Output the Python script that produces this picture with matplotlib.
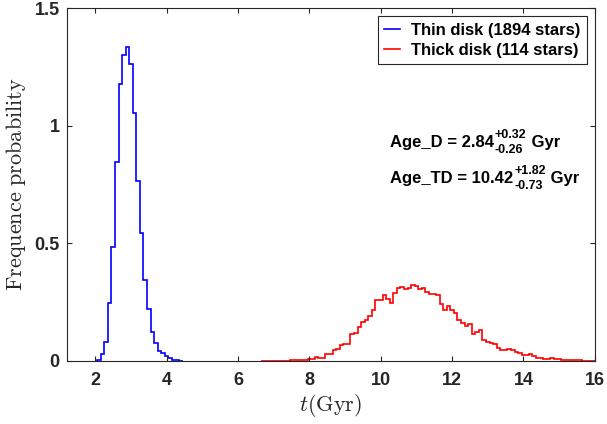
import numpy as np
import matplotlib
matplotlib.use("Agg")
import matplotlib.pyplot as plt

# ---------------- data ----------------
bin_width = 0.1
thin_start = 2.05
thin_density = [0.005, 0.028, 0.082, 0.248, 0.486, 0.845, 1.179, 1.300, 1.333, 1.262,
                1.054, 0.763, 0.543, 0.345, 0.220, 0.125, 0.078, 0.044, 0.033, 0.023,
                0.012, 0.006, 0.004, 0.002]

thick_start = 6.65
thick_density = [0.001, 0.001, 0.001, 0.002, 0.002, 0.002, 0.002, 0.002, 0.003, 0.003,
                 0.003, 0.004, 0.004, 0.008,
                 0.010, 0.016, 0.014, 0.014, 0.028, 0.030, 0.045, 0.052, 0.067, 0.071,
                 0.071, 0.116, 0.120, 0.145, 0.166, 0.176, 0.190, 0.218, 0.258, 0.258,
                 0.280, 0.265, 0.247, 0.290, 0.312, 0.315, 0.304, 0.312, 0.325, 0.318,
                 0.308, 0.312, 0.294, 0.284, 0.284, 0.280, 0.244, 0.218, 0.233, 0.216,
                 0.204, 0.176, 0.162, 0.148, 0.156, 0.116, 0.123, 0.130, 0.091, 0.081,
                 0.077, 0.074, 0.057, 0.045, 0.048, 0.052, 0.045, 0.038, 0.034, 0.024,
                 0.024, 0.031, 0.020, 0.014, 0.014, 0.008, 0.010, 0.013, 0.008, 0.010,
                 0.006, 0.006, 0.004, 0.003, 0.003, 0.003, 0.002, 0.002, 0.002, 0.002]

thin_label = "Thin disk (1894 stars)"
thick_label = "Thick disk (114 stars)"
xticks = [2, 4, 6, 8, 10, 12, 14, 16]
yticks = [0, 0.5, 1, 1.5]
ytick_labels = ["0", "0.5", "1", "1.5"]
age_names = ["Age_D", "Age_TD"]
age_values = ["2.84", "10.42"]
age_plus = ["+0.32", "+1.82"]
age_minus = ["-0.26", "-0.73"]

# ---------------- style ----------------
plt.rcParams['font.family'] = ['Liberation Sans', 'DejaVu Sans']
plt.rcParams['font.weight'] = 'bold'

fig = plt.figure(figsize=(6.07, 4.24), dpi=100)
ax = fig.add_axes([0.110, 0.1486, 0.870, 0.8325])

thin_edges = thin_start + bin_width * np.arange(len(thin_density) + 1)
thick_edges = thick_start + bin_width * np.arange(len(thick_density) + 1)

ax.stairs(thin_density, thin_edges, color='#0000ff', linewidth=1.2, label=thin_label)
ax.stairs(thick_density, thick_edges, color='#ff0000', linewidth=1.2, label=thick_label)

ax.set_xlim(1.2, 16)
ax.set_ylim(0, 1.5)
ax.set_xticks(xticks)
ax.set_xticklabels([str(t) for t in xticks])
ax.set_yticks(yticks)
ax.set_yticklabels(ytick_labels)

edge = (0.15, 0.15, 0.15)
for s in ax.spines.values():
    s.set_color(edge)
    s.set_linewidth(0.8)
ax.tick_params(direction='in', length=3.5, width=0.8, color=edge, labelsize=13,
               top=True, right=True, labelcolor=edge)
ax.tick_params(axis='x', pad=8)
ax.tick_params(axis='y', pad=5)
for lab in ax.get_xticklabels() + ax.get_yticklabels():
    lab.set_fontweight('bold')

ax.set_xlabel(r'$t\mathrm{(Gyr)}$', fontsize=16, math_fontfamily='cm',
              color=edge, labelpad=2)
ax.set_ylabel(r'$\mathrm{Frequence\ probability}$', fontsize=16, math_fontfamily='cm',
              color=edge, labelpad=5)

leg = ax.legend(loc='upper right', bbox_to_anchor=(0.985, 0.977), fontsize=12,
                handlelength=0.95, handletextpad=0.65, borderpad=0.4, labelspacing=0.3,
                fancybox=False, framealpha=1, borderaxespad=0)
leg.get_frame().set_edgecolor(edge)
leg.get_frame().set_linewidth(0.8)
for t in leg.get_texts():
    t.set_fontweight('bold')

# ---------------- annotations (value with asymmetric errors) ----------------
fig.canvas.draw()
renderer = fig.canvas.get_renderer()
inv = ax.transAxes.inverted()
base_x = 0.612
base_ys = [0.605, 0.505]
main_fs = 12
small_fs = 9
for name, val, plus, minus, y in zip(age_names, age_values, age_plus, age_minus, base_ys):
    t_main = ax.text(base_x, y, f"{name} = {val}", transform=ax.transAxes,
                     fontsize=main_fs, fontweight='bold', va='baseline', ha='left')
    bb = t_main.get_window_extent(renderer)
    x_end = inv.transform((bb.x1 + 1, bb.y0))[0]
    y_disp = ax.transAxes.transform((base_x, y))[1]
    y_sup = inv.transform((0, y_disp + 9))[1]
    y_sub = inv.transform((0, y_disp - 6))[1]
    t_sup = ax.text(x_end, y_sup, plus, transform=ax.transAxes, fontsize=small_fs,
                    fontweight='bold', va='baseline', ha='left')
    t_sub = ax.text(x_end, y_sub, minus, transform=ax.transAxes, fontsize=small_fs,
                    fontweight='bold', va='baseline', ha='left')
    w = max(t_sup.get_window_extent(renderer).x1, t_sub.get_window_extent(renderer).x1)
    x_gyr = inv.transform((w, 0))[0]
    ax.text(x_gyr, y, " Gyr", transform=ax.transAxes, fontsize=main_fs,
            fontweight='bold', va='baseline', ha='left')

fig.savefig('out.png', dpi=100)
